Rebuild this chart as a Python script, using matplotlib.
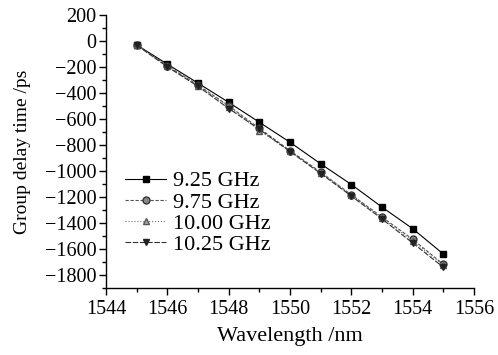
import matplotlib
matplotlib.use("Agg")
import matplotlib.pyplot as plt
from matplotlib.ticker import MultipleLocator

plt.rcParams['font.family'] = ['Liberation Serif', 'DejaVu Serif']

wavelength = [1545, 1546, 1547, 1548, 1549, 1550, 1551, 1552, 1553, 1554, 1555]
d_925 = [-31, -179, -325, -473, -626, -780, -946, -1105, -1279, -1445, -1640]
d_975 = [-31, -192, -340, -499, -673, -844, -1010, -1184, -1355, -1527, -1719]
d_1000 = [-32, -195, -345, -505, -690, -848, -1015, -1188, -1362, -1540, -1727]
d_1025 = [-33, -200, -350, -520, -680, -852, -1020, -1194, -1370, -1555, -1742]
labels = ["9.25 GHz", "9.75 GHz", "10.00 GHz", "10.25 GHz"]

fig = plt.figure(figsize=(4.98, 3.55), dpi=100)
ax = fig.add_axes([0.213, 0.189, 0.739, 0.769])

ax.plot(wavelength, d_925, '-', color='black', lw=0.8, marker='s', ms=5, label=labels[0])
ax.plot(wavelength, d_975, '--', color='#555555', lw=0.8, marker='o', ms=5, mfc='#888888', mec='#333333', label=labels[1], dashes=(3, 1.5))
ax.plot(wavelength, d_1000, ':', color='#777777', lw=0.8, marker='^', ms=5, mfc='#aaaaaa', mec='#555555', label=labels[2])
ax.plot(wavelength, d_1025, '--', color='#333333', lw=0.8, marker='v', ms=5, mfc='#222222', mec='#222222', label=labels[3], dashes=(5, 1.5))

ax.set_xlim(1544, 1556)
ax.set_ylim(-1900, 200)
ax.xaxis.set_major_locator(MultipleLocator(2))
ax.xaxis.set_minor_locator(MultipleLocator(1))
ax.yaxis.set_major_locator(MultipleLocator(200))
ax.yaxis.set_minor_locator(MultipleLocator(100))
ax.spines['top'].set_visible(False)
ax.spines['right'].set_visible(False)
for s in ['left', 'bottom']:
    ax.spines[s].set_linewidth(1.0)
ax.tick_params(which='major', direction='out', length=5, width=1, labelsize=14.5)
ax.tick_params(which='minor', direction='out', length=3, width=1)
ax.tick_params(axis='y', pad=2)
ax.set_yticks(ax.get_yticks())
ax.set_ylim(-1900, 200)
ax.set_yticklabels([f"{int(v)}".replace('-', '\u2212') for v in ax.get_yticks()])

ax.set_xlabel("Wavelength /nm", fontsize=16, labelpad=6)
ax.set_ylabel("Group delay time /ps", fontsize=14, labelpad=10)

fig.legend(loc='center left', bbox_to_anchor=(125/498, 1 - 213/355), frameon=False, fontsize=16,
           handlelength=1.85, handletextpad=0.3, labelspacing=0.03, borderpad=0, borderaxespad=0)

fig.savefig("out.png", dpi=100)
